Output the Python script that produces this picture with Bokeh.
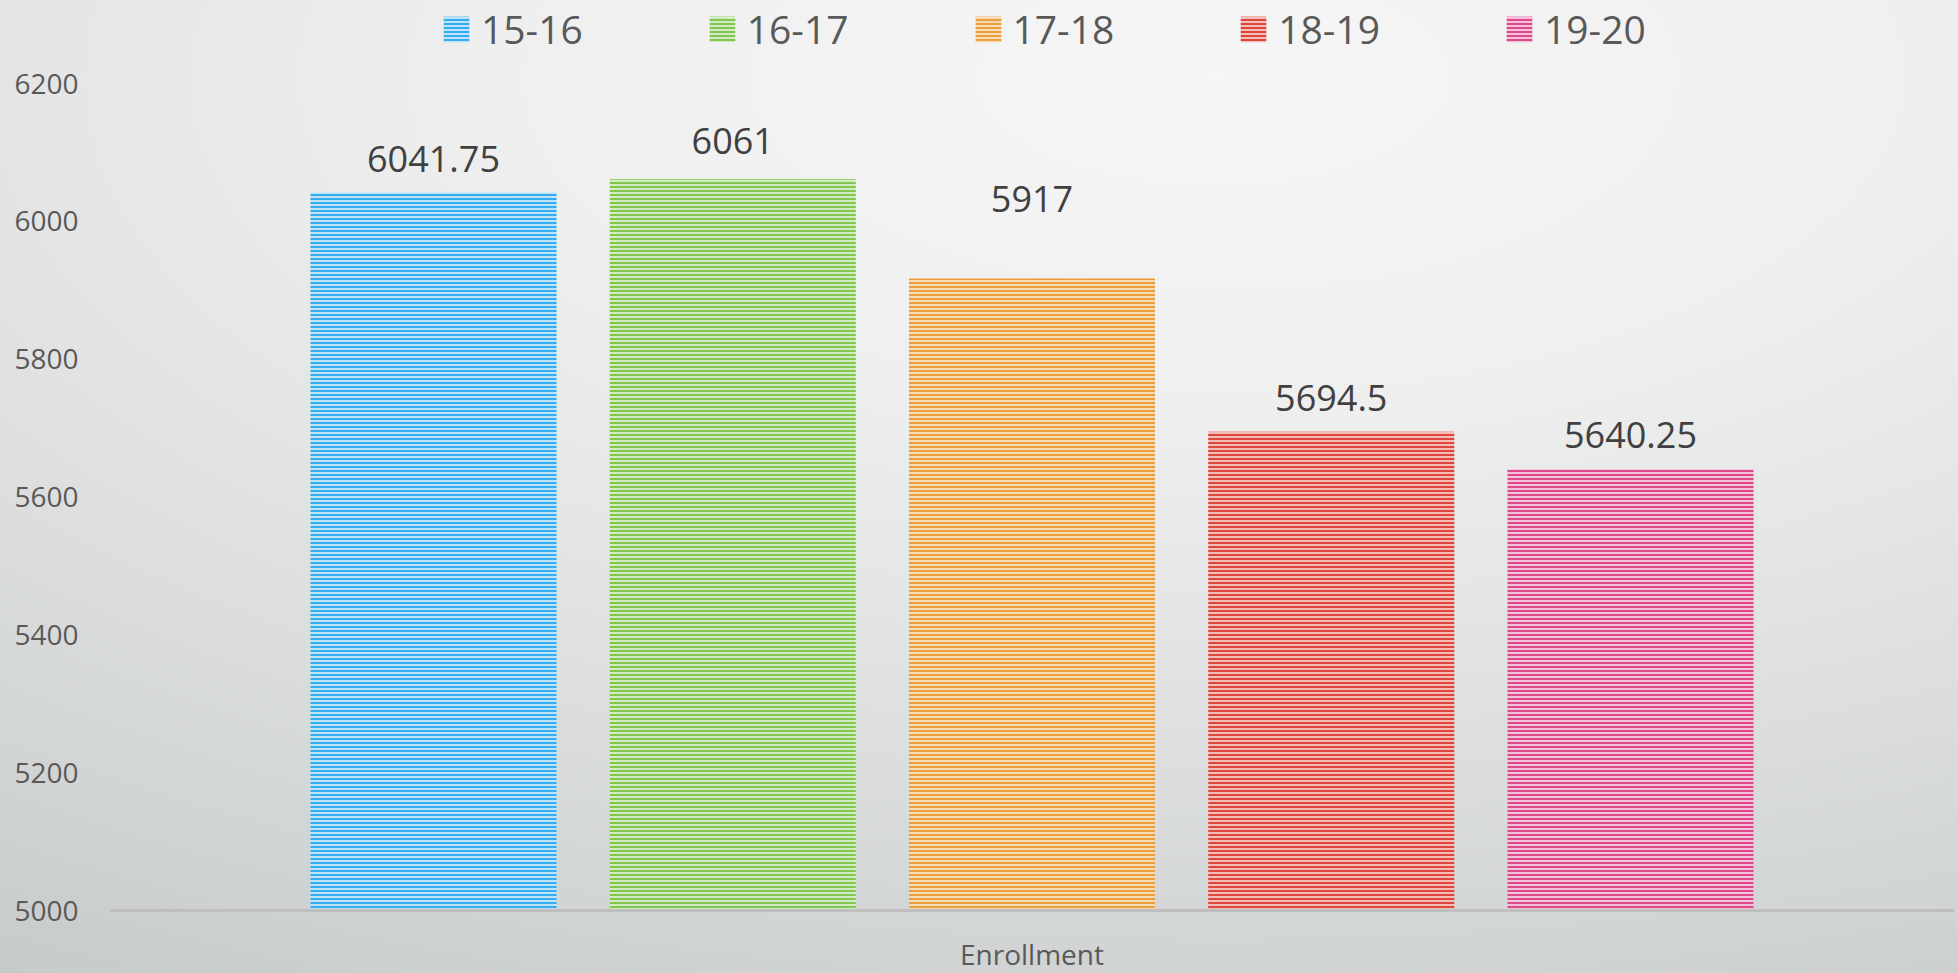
from bokeh.plotting import figure
from bokeh.models import ColumnDataSource, FactorRange, Range1d, LabelSet, Legend, LegendItem, FixedTicker
from bokeh.transform import dodge
from bokeh.core.properties import value
from bokeh.embed import file_html
from bokeh.resources import INLINE

# ---- data ----
category = ["Enrollment"]
years = ["15-16", "16-17", "17-18", "18-19", "19-20"]
enrollment = [6041.75, 6061, 5917, 5694.5, 5640.25]
label_texts = ["6041.75", "6061", "5917", "5694.5", "5640.25"]
y_ticks = [5000, 5200, 5400, 5600, 5800, 6000, 6200]

# ---- style / layout ----
line_colors = ["#33adee", "#80c650", "#e99f3f", "#df473d", "#dc4a8c"]
tint_colors = ["#bfe3f8", "#d3ebc2", "#f6dbb5", "#f3bdb8", "#f4c1d8"]
label_lift = [34, 38, 80, 34, 34]   # px above bar top (label centre)
FONT = "Open Sans"

W, H = 1958, 973
LEFT, BOTTOM = 109, 63
FW, FH = W - LEFT - 4, H - BOTTOM          # frame reaches the top of the page
AXIS_PX = 827                              # pixels spanned by the 5000..6200 axis
y_end = y_ticks[0] + (y_ticks[-1] - y_ticks[0]) * FH / AXIS_PX
pitch = 299.25 / FW
bar_w = 246 / FW

p = figure(x_range=FactorRange(*category, range_padding=0),
           y_range=Range1d(y_ticks[0], y_end),
           frame_width=FW, frame_height=FH, output_backend="svg", toolbar_location=None,
           min_border_left=LEFT, min_border_right=4, min_border_top=0, min_border_bottom=BOTTOM)

p.background_fill_alpha = 0
p.border_fill_alpha = 0
p.outline_line_color = None
p.styles = {"background": "radial-gradient(ellipse 120% 110% at 62% 8%, #f6f6f6 0%, #efefef 30%, #dcdede 65%, #c6c9ca 100%)"}
p.xgrid.grid_line_color = None
p.ygrid.grid_line_color = None

items = []
for i, (yr, val) in enumerate(zip(years, enrollment)):
    src = ColumnDataSource(dict(cat=category, val=[val], txt=[label_texts[i]]))
    xpos = dodge("cat", (i - 2) * pitch, range=p.x_range)
    r = p.vbar(x=xpos, top="val", bottom=y_ticks[0], width=bar_w, source=src,
               fill_color=tint_colors[i], line_color=None,
               hatch_pattern="horizontal_line", hatch_color=line_colors[i],
               hatch_scale=4, hatch_weight=2)
    items.append(LegendItem(label=yr, renderers=[r]))
    lbl = LabelSet(x=xpos, y="val", text="txt", source=src,
                   y_offset=label_lift[i], text_align="center", text_baseline="middle",
                   text_font=value(FONT), text_font_size="36px", text_color="#404040")
    p.add_layout(lbl)

legend = Legend(items=items, orientation="horizontal", location=(331, FH - 55),
                glyph_width=32, glyph_height=32, label_standoff=9, spacing=123,
                label_text_font=FONT, label_text_font_size="39px", label_text_color="#595959",
                background_fill_alpha=0, border_line_color=None, padding=0, margin=0,
                label_height=40)
p.add_layout(legend, "center")

p.yaxis.ticker = FixedTicker(ticks=y_ticks)
p.yaxis.axis_line_color = None
p.yaxis.major_tick_line_color = None
p.yaxis.minor_tick_line_color = None
p.yaxis.major_label_standoff = 25
p.yaxis.major_label_text_font = FONT
p.yaxis.major_label_text_font_size = "28px"
p.yaxis.major_label_text_color = "#595959"

p.xaxis.axis_line_color = "#bfbfbf"
p.xaxis.axis_line_width = 3
p.xaxis.major_tick_line_color = None
p.xaxis.major_label_standoff = 18
p.xaxis.major_label_text_font = FONT
p.xaxis.major_label_text_font_size = "28px"
p.xaxis.major_label_text_color = "#595959"

open("out.html", "w").write(file_html(p, INLINE))
